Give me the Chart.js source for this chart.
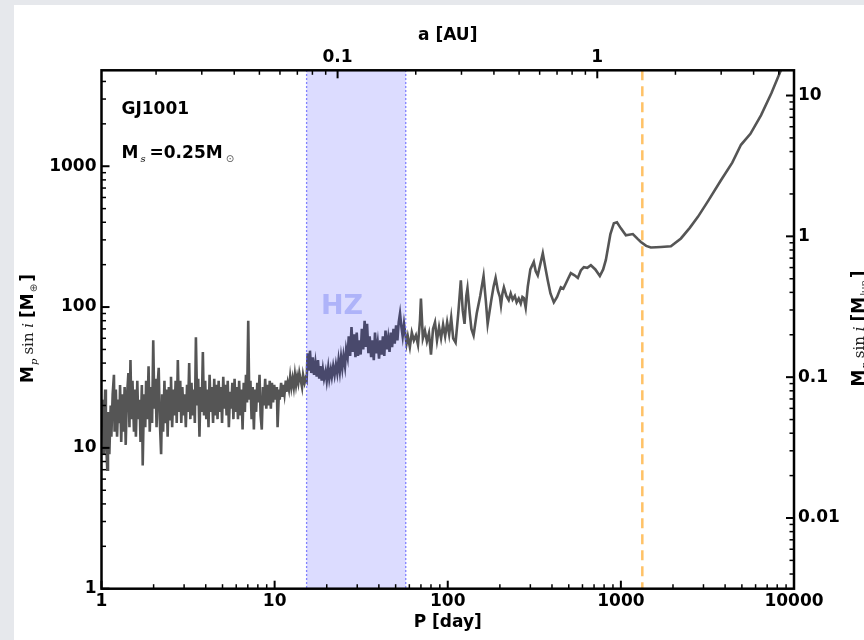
<!DOCTYPE html>
<html>
<head>
<meta charset="utf-8">
<script src="https://cdn.jsdelivr.net/npm/chart.js@4.4.0/dist/chart.umd.min.js"></script>
<style>
html, body { margin: 0; padding: 0; background: #e6e8ec; }
canvas { display: block; }
</style>
</head>
<body>
<canvas id="myChart" width="864" height="640"></canvas>
<script>
// periodo orbital [dias] y masa minima detectable [M tierra]
var periods = [
    1.00,1.02,1.03,1.05,1.06,1.08,1.09,1.11,1.13,1.14,
    1.16,1.18,1.19,1.21,1.23,1.25,1.27,1.28,1.30,1.32,
    1.34,1.36,1.38,1.40,1.43,1.45,1.47,1.49,1.51,1.54,
    1.56,1.58,1.61,1.63,1.66,1.68,1.71,1.73,1.76,1.79,
    1.81,1.84,1.87,1.90,1.93,1.96,1.99,2.02,2.05,2.08,
    2.11,2.14,2.17,2.21,2.24,2.27,2.31,2.34,2.38,2.41,
    2.45,2.49,2.52,2.56,2.60,2.64,2.68,2.72,2.76,2.80,
    2.85,2.89,2.93,2.98,3.02,3.07,3.12,3.16,3.21,3.26,
    3.31,3.36,3.41,3.46,3.51,3.57,3.62,3.68,3.73,3.79,
    3.85,3.91,3.97,4.03,4.09,4.15,4.21,4.28,4.34,4.41,
    4.48,4.54,4.61,4.68,4.75,4.83,4.90,4.97,5.05,5.13,
    5.20,5.28,5.36,5.44,5.53,5.61,5.70,5.78,5.87,5.96,
    6.05,6.14,6.24,6.33,6.43,6.53,6.63,6.73,6.83,6.93,
    7.04,7.14,7.25,7.36,7.47,7.59,7.70,7.82,7.94,8.06,
    8.18,8.30,8.43,8.56,8.69,8.82,8.95,9.09,9.23,9.37,
    9.51,9.65,9.80,9.95,10.1,10.3,10.4,10.6,10.7,10.9,
    11.1,11.2,11.4,11.6,11.7,11.9,12.1,12.3,12.5,12.7,
    12.9,13.1,13.3,13.5,13.7,13.9,
    14.1,14.4,14.6,14.9,15.1,15.3,15.5,15.8,16.0,16.3,
    16.6,16.9,17.2,17.5,17.8,18.1,18.4,18.7,19.0,19.3,
    19.7,20.0,20.4,20.7,21.1,21.4,21.8,22.2,22.6,23.0,
    23.4,23.8,24.2,24.6,25.0,25.5,25.9,26.4,26.8,27.3,
    27.8,28.3,28.8,29.3,29.8,30.3,30.8,31.4,31.9,32.5,
    33.1,33.6,34.2,34.8,35.4,36.1,36.7,37.4,38.0,38.7,
    39.4,40.1,40.8,41.5,42.2,43.0,43.7,44.5,45.3,46.1,
    46.9,47.7,48.6,49.4,50.3,51.2,52.1,53.0,54.0,54.9,
    55.9,56.9,
    57.8,58.8,60.4,62.0,63.7,65.5,67.3,69.1,70.0,71.8,
    73.8,75.8,77.9,80.0,82.2,84.4,86.7,89.1,91.5,94.0,
    96.6,99.2,101.9,104.7,107.5,
    111,115,119,122,125,128,130,134,137,141,
    147,154,161,166,170,178,184,189,195,200,
    203,207,211,218,225,231,237,244,250,257,
    264,270,275,282,290,300,314,322,331,342,
    354,365,378,392,410,428,450,465,481,497,
    514,540,564,587,611,640,671,712,756,790,
    819,
    870,911,949,1000,1069,1173,1250,1305,1400,1490,
    1600,1703,1945,2223,2500,2786,3200,3785,4400,4941,
    5600,6445,7400,8410,9200
];
var masses = [
    14,22,9,26,12,7,18,9,20,12,
    24,33,13,26,12,22,15,28,11,24,
    13,27,10.5,22,34,14,42,16,30,13,
    26,12,30,16,22,11,28,7.5,24,14,
    30,16,38,13,27,15,58,19,31,14,
    28,37,16,9,24,13,30,15,26,12,
    27,16,32,14,26,17,30,15,42,18,
    30,15,27,17,24,14,28,18,40,16,
    29,17,26,15,61,20,31,12,27,18,
    48,17,30,16,26,14,33,18,27,15,
    31,17,28,16,30,18,27,15,32,19,
    28,17,30,14,25,19,29,16,31,18,
    27,16,30,17,26,13.5,29,18,33,21,
    80,22,30,16,27,13.5,26,18,29,21,
    33,17,13.5,27,20,31,19,28,20,30,
    19,29,21,28,22,27,14,26,22,29,
    23,28,24,30,25,29,26,32,27,31,
    27,33,28,32,29,34,
    31,27,33,29,31,30,47,36,49,34,
    44,33,40,32,42,31,38,30,36,31,
    35,30,37,31,36,32,38,33,39,34,
    42,35,44,37,45,38,50,44,62,45,
    72,48,64,44,66,45,58,46,70,50,
    80,52,76,47,62,44,58,42,66,47,
    56,43,58,46,62,45,68,50,60,48,
    66,52,70,55,74,58,78,90,72,62,
    76,64,
    55,62,52,66,58,63,54,80,115,60,
    68,57,65,46,70,78,58,72,60,75,
    62,78,64,84,60,
    56,90,155,95,76,120,136,90,70,63,
    90,120,166,110,76,110,140,161,130,118,
    103,125,138,120,112,125,113,120,108,115,
    106,118,116,99,140,185,209,180,168,200,
    241,195,155,125,108,118,138,135,147,160,
    174,168,161,182,192,190,198,185,166,185,
    216,
    330,394,400,362,323,330,305,290,272,265,
    266,267,270,307,365,437,570,795,1060,1420,
    1700,2300,3300,4820,6000
];

var periodTicks = [1, 10, 100, 1000, 10000];
var periodLabels = ['1', '10', '100', '1000', '10000'];
var massTicks = [1, 10, 100, 1000];
var massLabels = ['1', '10', '100', '1000'];
var jupTicks = [0.01, 0.1, 1, 10];
var jupLabels = ['0.01', '0.1', '1', '10'];
var auTicks = [0.1, 1];
var auLabels = ['0.1', '1'];

var periodRange = [1, 10000];
var massRange = [1, 4800];
var hzRange = [15.3, 57.2];      // zona habitable [dias]
var stabilityLimit = 1330;       // linea naranja [dias]
var starMass = 0.25;             // M sol
var earthPerJupiter = 317.8;

function semiAxis(p) {
    return Math.cbrt(starMass * Math.pow(p / 365.25, 2));
}

// ticks 1..9 por decada
function logTicks(min, max) {
    var out = [];
    for (var d = Math.floor(Math.log10(min)); d <= Math.ceil(Math.log10(max)); d++) {
        for (var k = 1; k <= 9; k++) {
            var v = Number((k * Math.pow(10, d)).toPrecision(6));
            if (v >= min * 0.9999 && v <= max * 1.0001) out.push({ value: v });
        }
    }
    return out;
}
function isDecade(v) {
    var l = Math.log10(v);
    return Math.abs(l - Math.round(l)) < 1e-6;
}
function labelFor(list, labels) {
    return function (v) {
        for (var i = 0; i < list.length; i++) {
            if (Math.abs(v - list[i]) < list[i] * 1e-6) return labels[i];
        }
        return '';
    };
}

var tickFont = { family: 'DejaVu Sans', size: 17, weight: 'bold' };

function axis(pos, min, max, list, labels, size, pad, title) {
    return {
        type: 'logarithmic',
        position: pos,
        min: min,
        max: max,
        grid: { display: false, drawTicks: false },
        border: { display: false },
        afterBuildTicks: function (s) { s.ticks = logTicks(min, max); },
        afterFit: function (s) {
            if (pos === 'top' || pos === 'bottom') s.height = size; else s.width = size;
        },
        ticks: {
            autoSkip: false, maxRotation: 0, padding: pad,
            color: '#000', font: tickFont,
            callback: labelFor(list, labels)
        },
        title: title || { display: false }
    };
}

function drawRich(c, x, y, parts, rot) {
    c.save();
    c.translate(x, y);
    if (rot) c.rotate(-Math.PI / 2);
    c.textBaseline = 'alphabetic';
    c.textAlign = 'left';
    var w = 0;
    parts.forEach(function (p) { c.font = p.f; p.w = c.measureText(p.t).width; w += p.w + (p.gap || 0); });
    var px = rot ? -w / 2 : 0;
    parts.forEach(function (p) {
        c.font = p.f;
        c.fillStyle = p.c || '#000';
        c.fillText(p.t, px, p.dy || 0);
        px += p.w + (p.gap || 0);
    });
    c.restore();
}

function massTitle(unit) {
    return [
        { t: 'M', f: 'bold 17px DejaVu Sans', gap: 1 },
        { t: 'p', f: 'italic 10px DejaVu Serif', dy: 4, gap: 4 },
        { t: 'sin ', f: '15px DejaVu Serif', c: '#222' },
        { t: 'i', f: 'italic 15px DejaVu Serif', c: '#222', gap: 5 },
        { t: '[M', f: 'bold 17px DejaVu Sans', gap: 1 },
        { t: unit, f: '10px DejaVu Sans', dy: 4, c: '#444', gap: 2 },
        { t: ']', f: 'bold 17px DejaVu Sans' }
    ];
}

var decor = {
    id: 'decor',
    beforeDraw: function (chart) {
        var c = chart.ctx;
        c.save();
        c.fillStyle = '#e6e8ec';
        c.fillRect(0, 0, 864, 640);
        c.fillStyle = '#ffffff';
        c.fillRect(14, 5, 850, 635);
        c.restore();
    },
    afterDatasetsDraw: function (chart) {
        var c = chart.ctx, a = chart.chartArea, s = chart.scales;
        c.save();
        // zona habitable
        var x0 = s.x.getPixelForValue(hzRange[0]);
        var x1 = s.x.getPixelForValue(hzRange[1]);
        c.fillStyle = 'rgba(0,0,255,0.137)';
        c.fillRect(x0, a.top, x1 - x0, a.bottom - a.top);
        c.strokeStyle = '#5c5cff';
        c.lineWidth = 1.3;
        c.setLineDash([1.5, 2.5]);
        [x0, x1].forEach(function (x) {
            c.beginPath(); c.moveTo(x, a.top); c.lineTo(x, a.bottom); c.stroke();
        });
        // limite naranja
        var xs = s.x.getPixelForValue(stabilityLimit);
        c.strokeStyle = '#ffc266';
        c.lineWidth = 2.5;
        c.setLineDash([10, 6]);
        c.beginPath(); c.moveTo(xs, a.top); c.lineTo(xs, a.bottom); c.stroke();
        c.setLineDash([]);
        // marco
        c.strokeStyle = '#000';
        c.lineWidth = 2.5;
        c.strokeRect(a.left, a.top, a.right - a.left, a.bottom - a.top);
        // ticks hacia dentro
        [['x', 'bottom'], ['xTop', 'top'], ['y', 'left'], ['yJup', 'right']].forEach(function (d) {
            var sc = s[d[0]];
            sc.ticks.forEach(function (t) {
                var major = isDecade(t.value);
                var len = major ? 8 : 4.5;
                var p = sc.getPixelForValue(t.value);
                c.lineWidth = major ? 2 : 1.5;
                c.beginPath();
                if (d[1] === 'bottom') { c.moveTo(p, a.bottom); c.lineTo(p, a.bottom - len); }
                if (d[1] === 'top') { c.moveTo(p, a.top); c.lineTo(p, a.top + len); }
                if (d[1] === 'left') { c.moveTo(a.left, p); c.lineTo(a.left + len, p); }
                if (d[1] === 'right') { c.moveTo(a.right, p); c.lineTo(a.right - len, p); }
                c.stroke();
            });
        });
        c.restore();
    },
    afterDraw: function (chart) {
        var c = chart.ctx;
        c.save();
        c.textBaseline = 'middle';
        c.fillStyle = '#000';
        c.font = 'bold 17px DejaVu Sans';
        c.fillText('GJ1001', 121.5, 110);
        drawRich(c, 121.5, 158, [
            { t: 'M', f: 'bold 17px DejaVu Sans', gap: 2 },
            { t: 's', f: 'italic 10px DejaVu Serif', dy: 4, gap: 4 },
            { t: '=0.25M', f: 'bold 17px DejaVu Sans', gap: 3 },
            { t: '\u2299', f: '10px DejaVu Sans', dy: 4, c: '#555' }
        ], false);
        c.font = 'bold 27px DejaVu Sans';
        c.fillStyle = '#aeb3f9';
        c.textAlign = 'center';
        c.fillText('HZ', 342, 307);
        drawRich(c, 33, 328.5, massTitle('\u2295'), true);
        drawRich(c, 863.5, 328.5, massTitle('Jup'), true);
        c.restore();
    }
};

var ctx = document.getElementById('myChart').getContext('2d');
var myChart = new Chart(ctx,
{
    type: 'scatter',
    data:
    {
        datasets:
        [
            {
                data: periods.map(function (p, i) { return { x: p, y: masses[i] }; }),
                showLine: true,
                borderColor: '#555555',
                borderWidth: 2.6,
                pointRadius: 0,
                tension: 0,
                clip: 0
            }
        ]
    },
    options:
    {
        responsive: false,
        animation: false,
        devicePixelRatio: 1,
        layout: { padding: 0 },
        plugins: { legend: { display: false }, tooltip: { enabled: false } },
        scales:
        {
            x: axis('bottom', periodRange[0], periodRange[1], periodTicks, periodLabels, 51.3, 3,
                { display: true, text: 'P [day]', color: '#000', font: tickFont, padding: { top: 0, bottom: 7 } }),
            xTop: axis('top', semiAxis(periodRange[0]), semiAxis(periodRange[1]), auTicks, auLabels, 70.3, 3,
                { display: true, text: 'a [AU]', color: '#000', font: tickFont, padding: { top: 25, bottom: 0 } }),
            y: axis('left', massRange[0], massRange[1], massTicks, massLabels, 101.5, 5),
            yJup: axis('right', massRange[0] / earthPerJupiter, massRange[1] / earthPerJupiter, jupTicks, jupLabels, 70, 4)
        }
    },
    plugins: [decor]
});
</script>
</body>
</html>
